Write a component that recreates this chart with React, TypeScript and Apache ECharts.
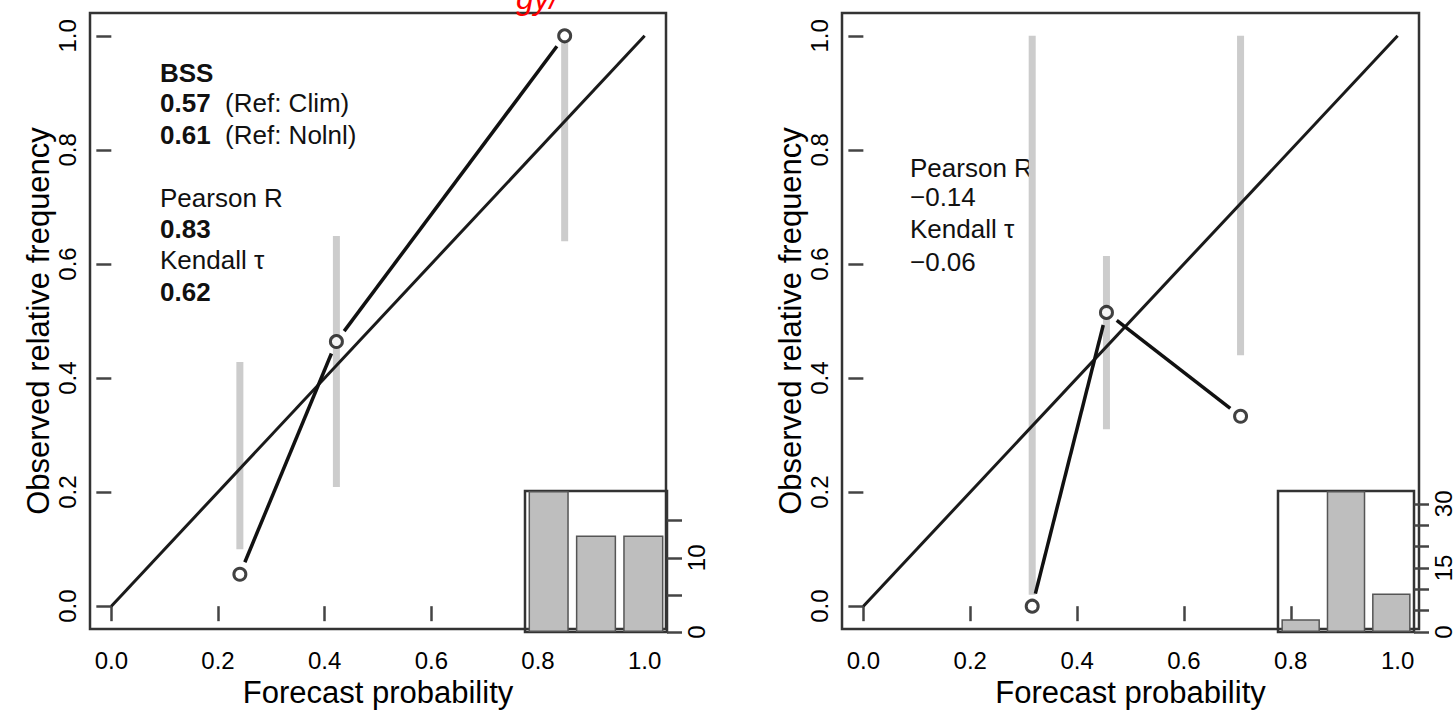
import React, { useEffect, useRef } from "react";
import * as echarts from "echarts";

const FONT = "'Liberation Sans', Arial, Helvetica, sans-serif";

// shared axis ticks
const xTicks = [0, 0.2, 0.4, 0.6, 0.8, 1.0];
const yTicks = [0, 0.2, 0.4, 0.6, 0.8, 1.0];
const diagonal = [[0, 0], [1, 1]];
const histBins = ["bin1", "bin2", "bin3"];

// left panel
const leftForecast = [0.241, 0.422, 0.85];
const leftObserved = [0.056, 0.464, 1.0];
const leftBarLow = [0.1, 0.209, 0.64];
const leftBarHigh = [0.428, 0.649, 0.99];
const leftHistCounts = [19, 13, 13];
const leftHistMax = 19;
const leftHistTicks = [0, 5, 10, 15];
const leftHistLabels = [0, 10];

// right panel
const rightForecast = [0.316, 0.455, 0.706];
const rightObserved = [0.0, 0.515, 0.333];
const rightBarLow = [0.02, 0.31, 0.44];
const rightBarHigh = [1.0, 0.614, 1.0];
const rightHistCounts = [3, 33, 9];
const rightHistMax = 33;
const rightHistTicks = [0, 5, 10, 15, 20, 25, 30];
const rightHistLabels = [0, 15, 30];

// annotation texts
const leftNotes = ["BSS", "0.57", "(Ref: Clim)", "0.61", "(Ref: Nolnl)", "Pearson R", "0.83", "Kendall τ", "0.62"];
const rightNotes = ["Pearson R", "−0.14", "Kendall τ", "−0.06"];
const titleFragment = "gy/";

function mainAxes(gridIndex: number) {
  const x = {
    gridIndex,
    type: "value",
    min: -0.04,
    max: 1.04,
    axisLine: { show: false },
    splitLine: { show: false },
    axisTick: { show: true, length: 15, customValues: xTicks, lineStyle: { color: "#444", width: 2.5 } },
    axisLabel: {
      customValues: xTicks,
      formatter: (v: number) => v.toFixed(1),
      fontSize: 24,
      color: "#000",
      margin: 19,
      fontFamily: FONT,
    },
    name: "Forecast probability",
    nameLocation: "middle",
    nameGap: 48,
    nameTextStyle: { fontSize: 31, color: "#000", fontFamily: FONT },
  };
  const y = {
    gridIndex,
    type: "value",
    min: -0.04,
    max: 1.04,
    axisLine: { show: false },
    splitLine: { show: false },
    axisTick: { show: true, length: 15, customValues: yTicks, lineStyle: { color: "#444", width: 2.5 } },
    axisLabel: {
      customValues: yTicks,
      formatter: (v: number) => v.toFixed(1),
      fontSize: 24,
      color: "#000",
      margin: 11,
      rotate: 90,
      fontFamily: FONT,
    },
    name: "Observed relative frequency",
    nameLocation: "middle",
    nameRotate: 90,
    nameGap: 36,
    nameTextStyle: { fontSize: 31, color: "#000", fontFamily: FONT },
  };
  return { x, y };
}

function histAxes(gridIndex: number, max: number, ticks: number[], labels: number[]) {
  const x = {
    gridIndex,
    type: "category",
    data: histBins,
    show: false,
  };
  const y = {
    gridIndex,
    type: "value",
    position: "right",
    min: 0,
    max,
    axisLine: { show: false },
    splitLine: { show: false },
    axisTick: { show: true, length: 15, customValues: ticks, lineStyle: { color: "#444", width: 2.5 } },
    axisLabel: {
      customValues: labels,
      fontSize: 24,
      color: "#000",
      margin: 17,
      rotate: 90,
      fontFamily: FONT,
    },
  };
  return { x, y };
}

function panelSeries(
  axisIndex: number,
  histIndex: number,
  fc: number[],
  obs: number[],
  lo: number[],
  hi: number[],
  counts: number[]
) {
  const barData = fc.map((f, i) => [f, lo[i], hi[i]]);
  const segData = fc.slice(0, -1).map((f, i) => [f, obs[i], fc[i + 1], obs[i + 1]]);
  const pts = fc.map((f, i) => [f, obs[i]]);
  return [
    {
      type: "custom",
      xAxisIndex: axisIndex,
      yAxisIndex: axisIndex,
      z: 1,
      data: barData,
      renderItem: (params: any, api: any) => {
        const a = api.coord([api.value(0), api.value(1)]);
        const b = api.coord([api.value(0), api.value(2)]);
        return {
          type: "line",
          shape: { x1: a[0], y1: a[1], x2: b[0], y2: b[1] },
          style: { stroke: "#cccccc", lineWidth: 7 },
        };
      },
    },
    {
      type: "line",
      xAxisIndex: axisIndex,
      yAxisIndex: axisIndex,
      z: 2,
      data: diagonal,
      symbol: "none",
      lineStyle: { color: "#1a1a1a", width: 3 },
    },
    {
      type: "custom",
      xAxisIndex: axisIndex,
      yAxisIndex: axisIndex,
      z: 3,
      data: segData,
      renderItem: (params: any, api: any) => {
        const p1 = api.coord([api.value(0), api.value(1)]);
        const p2 = api.coord([api.value(2), api.value(3)]);
        const dx = p2[0] - p1[0];
        const dy = p2[1] - p1[1];
        const len = Math.hypot(dx, dy) || 1;
        const g = 13;
        return {
          type: "line",
          shape: {
            x1: p1[0] + (dx / len) * g,
            y1: p1[1] + (dy / len) * g,
            x2: p2[0] - (dx / len) * g,
            y2: p2[1] - (dy / len) * g,
          },
          style: { stroke: "#111", lineWidth: 3.5 },
        };
      },
    },
    {
      type: "scatter",
      xAxisIndex: axisIndex,
      yAxisIndex: axisIndex,
      z: 4,
      data: pts,
      symbol: "circle",
      symbolSize: 12,
      itemStyle: { color: "#ffffff", borderColor: "#111", borderWidth: 3 },
    },
    {
      type: "bar",
      xAxisIndex: histIndex,
      yAxisIndex: histIndex,
      z: 10,
      data: counts,
      barWidth: "85%",
      itemStyle: { color: "#bebebe", borderColor: "#555", borderWidth: 1.5 },
    },
  ];
}

function noteText(x: number, y: number, text: string, bold = false) {
  return {
    type: "text",
    x,
    y,
    style: {
      text,
      fontSize: 26,
      fontFamily: FONT,
      fontWeight: bold ? "bold" : "normal",
      fill: "#111",
      verticalAlign: "middle",
    },
  };
}

function richNote(x: number, y: number, boldPart: string, rest: string) {
  return {
    type: "text",
    x,
    y,
    style: {
      text: `{b|${boldPart}}  ${rest}`,
      rich: { b: { fontWeight: "bold", fontSize: 26, fontFamily: FONT, fill: "#111" } },
      fontSize: 26,
      fontFamily: FONT,
      fill: "#111",
      verticalAlign: "middle",
    },
  };
}

export default function App() {
  const ref = useRef<HTMLDivElement>(null);
  useEffect(() => {
    document.body.style.margin = "0";
    if (!ref.current) return;
    const chart = echarts.init(ref.current, undefined, { renderer: "svg" });
    const l = mainAxes(0);
    const lh = histAxes(1, leftHistMax, leftHistTicks, leftHistLabels);
    const r = mainAxes(2);
    const rh = histAxes(3, rightHistMax, rightHistTicks, rightHistLabels);
    const gridStyle = { show: true, borderColor: "#333", borderWidth: 2.5, backgroundColor: "rgba(0,0,0,0)" };
    chart.setOption({
      animation: false,
      backgroundColor: "#fff",
      grid: [
        { left: 90, top: 13, width: 576, height: 619, ...gridStyle },
        { left: 525, top: 491, width: 142, height: 141, ...gridStyle },
        { left: 842, top: 13, width: 577, height: 619, ...gridStyle },
        { left: 1278, top: 491, width: 141, height: 141, ...gridStyle },
      ],
      xAxis: [l.x, lh.x, r.x, rh.x],
      yAxis: [l.y, lh.y, r.y, rh.y],
      series: [
        ...panelSeries(0, 1, leftForecast, leftObserved, leftBarLow, leftBarHigh, leftHistCounts),
        ...panelSeries(2, 3, rightForecast, rightObserved, rightBarLow, rightBarHigh, rightHistCounts),
      ],
      graphic: [
        noteText(160, 73, leftNotes[0], true),
        richNote(160, 103, leftNotes[1], leftNotes[2]),
        richNote(160, 135, leftNotes[3], leftNotes[4]),
        noteText(160, 198, leftNotes[5]),
        noteText(160, 229, leftNotes[6], true),
        noteText(160, 260, leftNotes[7]),
        noteText(160, 292, leftNotes[8], true),
        noteText(910, 168, rightNotes[0]),
        noteText(910, 197, rightNotes[1]),
        noteText(910, 229, rightNotes[2]),
        noteText(910, 262, rightNotes[3]),
        {
          type: "text",
          x: 516,
          y: 14,
          style: {
            text: titleFragment,
            fontSize: 32,
            fontStyle: "italic",
            fontFamily: FONT,
            fill: "#ff0000",
            verticalAlign: "bottom",
          },
        },
      ],
    });
    return () => chart.dispose();
  }, []);
  return <div ref={ref} style={{ width: 1455, height: 713 }} />;
}
